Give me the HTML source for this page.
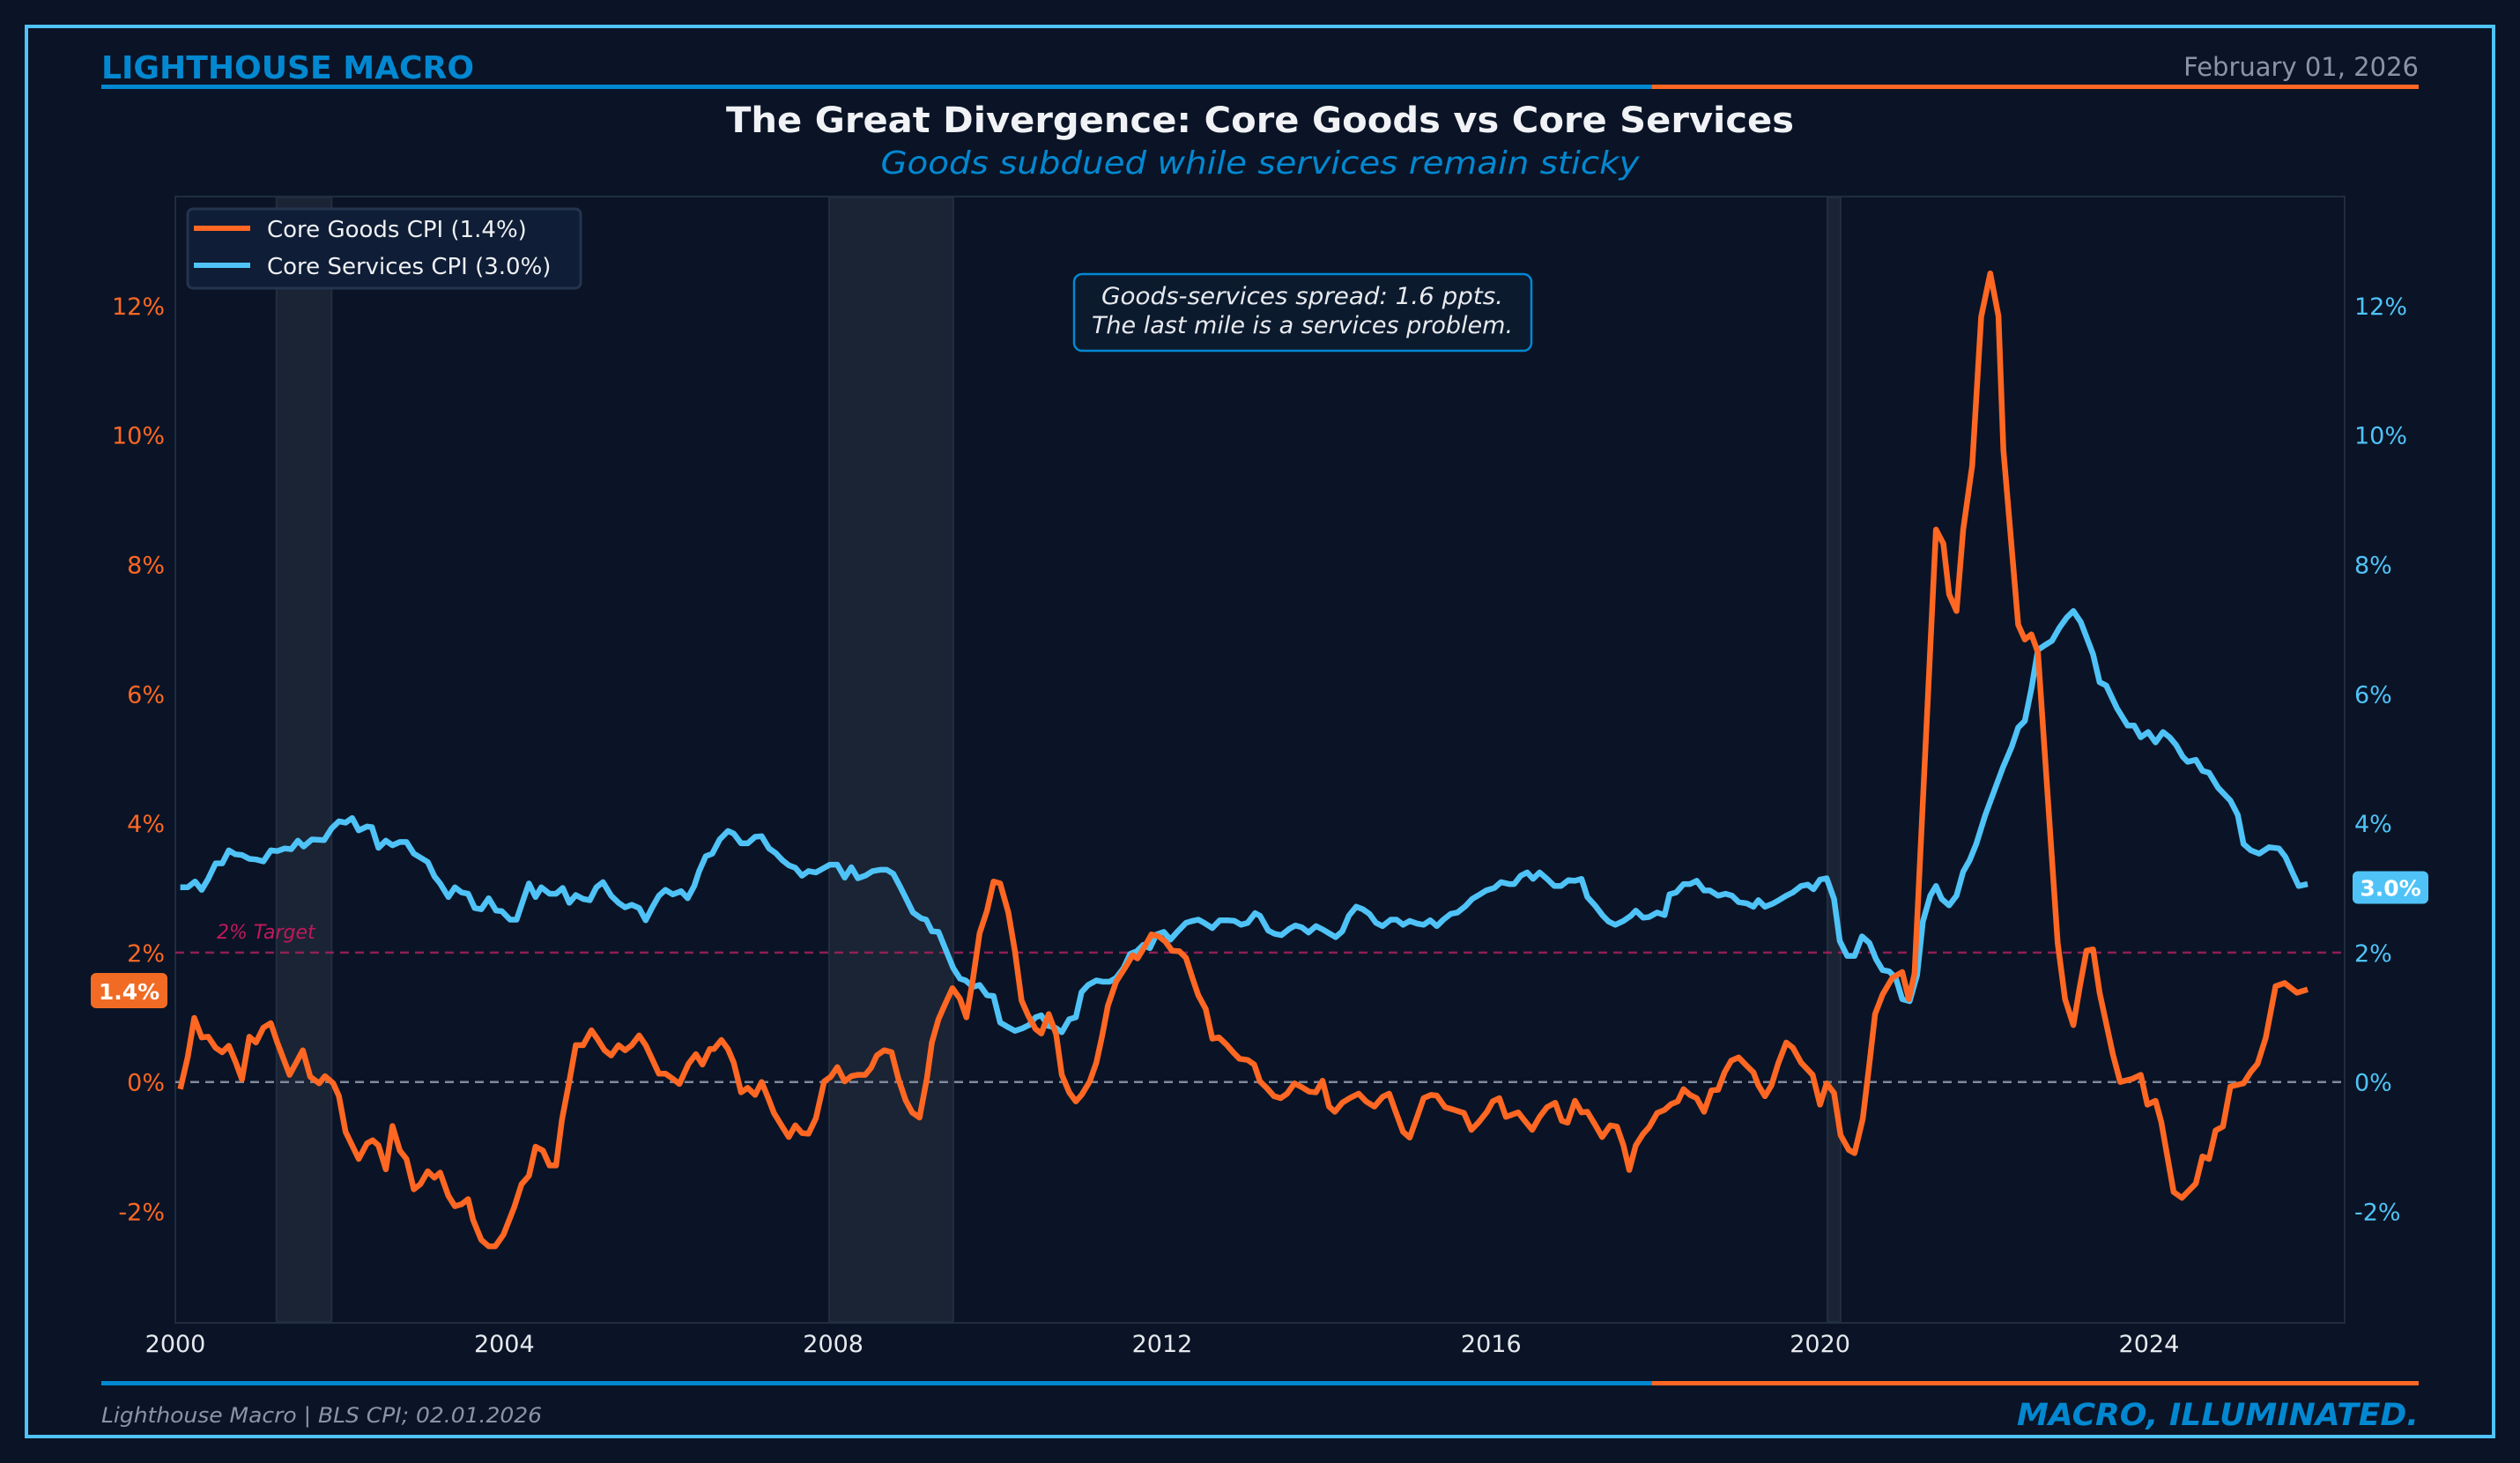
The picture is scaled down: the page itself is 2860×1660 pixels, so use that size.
<!DOCTYPE html>
<html><head><meta charset="utf-8"><style>
html,body{margin:0;padding:0;background:#0a1426;}
svg{display:block;font-family:"DejaVu Sans","Liberation Sans",sans-serif;}
</style></head><body>
<svg id="chart" width="2860" height="1660" viewBox="0 0 2860 1660" xmlns="http://www.w3.org/2000/svg">
<rect x="0" y="0" width="2860" height="1660" fill="#0a1426"/>
<rect x="30" y="30" width="2800" height="1600" fill="none" stroke="#4fc3f7" stroke-width="4"/>
<text x="115" y="89" font-size="36" font-weight="bold" fill="#0288d1" textLength="423" lengthAdjust="spacingAndGlyphs">LIGHTHOUSE MACRO</text>
<text x="2745" y="86" font-size="29" fill="#8a94a6" text-anchor="end">February 01, 2026</text>
<rect x="115" y="96" width="1760" height="5" fill="#0288d1"/>
<rect x="1875" y="96" width="870" height="5" fill="#ff6723"/>
<text x="1430" y="150" font-size="40" font-weight="bold" fill="#f0f2f5" text-anchor="middle" textLength="1212" lengthAdjust="spacingAndGlyphs">The Great Divergence: Core Goods vs Core Services</text>
<text x="1430" y="197" font-size="36" font-style="italic" fill="#0288d1" text-anchor="middle" textLength="861" lengthAdjust="spacingAndGlyphs">Goods subdued while services remain sticky</text>
<g id="plot"></g>
<rect x="115" y="1567" width="1760" height="5" fill="#0288d1"/>
<rect x="1875" y="1567" width="870" height="5" fill="#ff6723"/>
<text x="115" y="1614" font-size="24" font-style="italic" fill="#8a94a6" textLength="500" lengthAdjust="spacingAndGlyphs">Lighthouse Macro | BLS CPI; 02.01.2026</text>
<text x="2745" y="1617" font-size="35" font-style="italic" font-weight="bold" fill="#0288d1" text-anchor="end" textLength="456" lengthAdjust="spacingAndGlyphs">MACRO, ILLUMINATED.</text>
</svg>
<script>
const goodsYears=[2000.06,2000.15,2000.23,2000.32,2000.40,2000.49,2000.57,2000.65,2000.73,2000.81,2000.90,2000.98,2001.07,2001.16,2001.24,2001.39,2001.55,2001.64,2001.75,2001.82,2001.92,2001.99,2002.07,2002.23,2002.33,2002.40,2002.47,2002.56,2002.64,2002.73,2002.81,2002.90,2002.98,2003.07,2003.15,2003.22,2003.32,2003.40,2003.48,2003.56,2003.62,2003.72,2003.81,2003.89,2003.99,2004.12,2004.21,2004.30,2004.38,2004.47,2004.55,2004.63,2004.70,2004.79,2004.87,2004.96,2005.06,2005.13,2005.22,2005.30,2005.39,2005.47,2005.55,2005.64,2005.72,2005.80,2005.88,2005.96,2006.05,2006.13,2006.24,2006.33,2006.41,2006.50,2006.55,2006.64,2006.72,2006.79,2006.88,2006.96,2007.05,2007.13,2007.21,2007.28,2007.38,2007.46,2007.54,2007.62,2007.70,2007.79,2007.89,2007.97,2008.05,2008.14,2008.22,2008.30,2008.39,2008.46,2008.53,2008.62,2008.71,2008.79,2008.88,2008.96,2009.05,2009.14,2009.20,2009.28,2009.37,2009.45,
2009.54,2009.62,2009.70,2009.78,2009.87,2009.95,2010.03,2010.13,2010.21,2010.29,2010.37,2010.46,2010.53,2010.62,2010.71,2010.78,2010.87,2010.95,2011.02,2011.12,2011.20,2011.27,2011.34,2011.44,2011.55,2011.64,2011.70,2011.79,2011.87,2011.96,2012.04,2012.12,2012.21,2012.29,2012.37,2012.44,2012.53,2012.61,2012.69,2012.78,2012.87,2012.94,2013.04,2013.12,2013.19,2013.27,2013.36,2013.44,2013.52,2013.61,2013.70,2013.79,2013.87,2013.95,2014.03,2014.10,2014.19,2014.28,2014.39,2014.48,2014.58,2014.68,2014.76,2014.84,2014.93,2015.01,2015.10,2015.18,2015.27,2015.34,2015.44,2015.55,2015.67,2015.76,2015.85,2015.95,2016.02,2016.10,2016.18,2016.33,2016.41,2016.50,2016.59,2016.68,2016.78,2016.86,2016.93,2017.02,2017.10,2017.17,2017.27,2017.35,2017.45,2017.53,2017.61,2017.68,2017.76,2017.85,2017.92,2018.02,2018.11,2018.19,2018.27,2018.34,2018.42,2018.50,2018.59,2018.68,2018.76,
2018.84,2018.92,2019.01,2019.11,2019.19,2019.25,2019.33,2019.41,2019.49,2019.59,2019.67,2019.77,2019.91,2020.00,2020.08,2020.17,2020.25,2020.35,2020.42,2020.52,2020.60,2020.67,2020.76,2020.88,2021.00,2021.08,2021.15,2021.41,2021.50,2021.57,2021.66,2021.74,2021.85,2021.96,2022.07,2022.17,2022.23,2022.41,2022.49,2022.57,2022.65,2022.89,2022.98,2023.08,2023.16,2023.24,2023.32,2023.40,2023.56,2023.65,2023.80,2023.90,2023.98,2024.08,2024.15,2024.30,2024.40,2024.57,2024.65,2024.73,2024.81,2024.90,2024.99,2025.15,2025.24,2025.32,2025.42,2025.54,2025.65,2025.80,2025.93];
const goodsValues=[-0.11,0.38,0.99,0.69,0.70,0.53,0.46,0.56,0.32,0.04,0.70,0.61,0.84,0.91,0.61,0.11,0.49,0.08,-0.02,0.09,-0.02,-0.22,-0.77,-1.19,-0.95,-0.90,-0.98,-1.35,-0.68,-1.06,-1.19,-1.66,-1.58,-1.38,-1.48,-1.40,-1.76,-1.92,-1.89,-1.81,-2.13,-2.44,-2.54,-2.54,-2.36,-1.94,-1.58,-1.45,-1.00,-1.06,-1.29,-1.29,-0.59,0.01,0.57,0.57,0.80,0.67,0.49,0.41,0.57,0.49,0.57,0.72,0.57,0.35,0.13,0.13,0.05,-0.03,0.28,0.43,0.27,0.51,0.51,0.65,0.51,0.30,-0.16,-0.09,-0.20,0.00,-0.25,-0.48,-0.69,-0.85,-0.67,-0.79,-0.80,-0.56,0.01,0.08,0.23,0.01,0.09,0.11,0.11,0.22,0.41,0.49,0.46,0.06,-0.28,-0.47,-0.55,0.06,0.61,0.97,1.23,1.45,
1.29,1.00,1.60,2.30,2.65,3.10,3.07,2.62,2.02,1.26,1.03,0.82,0.75,1.05,0.74,0.11,-0.16,-0.30,-0.20,0.01,0.30,0.71,1.18,1.55,1.77,1.96,1.91,2.10,2.28,2.25,2.17,2.03,2.02,1.92,1.60,1.34,1.13,0.67,0.69,0.58,0.45,0.36,0.34,0.27,0.01,-0.09,-0.22,-0.25,-0.18,-0.02,-0.08,-0.15,-0.16,0.02,-0.38,-0.46,-0.32,-0.25,-0.18,-0.30,-0.38,-0.23,-0.18,-0.46,-0.77,-0.86,-0.54,-0.25,-0.20,-0.21,-0.39,-0.43,-0.48,-0.74,-0.62,-0.46,-0.30,-0.25,-0.54,-0.47,-0.60,-0.74,-0.54,-0.39,-0.32,-0.60,-0.63,-0.29,-0.47,-0.46,-0.67,-0.85,-0.67,-0.69,-0.98,-1.36,-0.98,-0.80,-0.70,-0.48,-0.43,-0.34,-0.30,-0.11,-0.20,-0.25,-0.46,-0.13,-0.12,
0.15,0.33,0.38,0.25,0.15,-0.05,-0.22,-0.05,0.28,0.61,0.53,0.30,0.11,-0.35,-0.02,-0.17,-0.82,-1.05,-1.10,-0.57,0.28,1.05,1.35,1.61,1.70,1.28,1.68,8.54,8.32,7.54,7.28,8.53,9.53,11.83,12.50,11.84,9.77,7.07,6.84,6.92,6.64,2.15,1.28,0.88,1.48,2.03,2.05,1.38,0.43,0.00,0.05,0.11,-0.35,-0.29,-0.62,-1.70,-1.79,-1.57,-1.15,-1.19,-0.75,-0.69,-0.07,-0.02,0.16,0.28,0.68,1.48,1.53,1.38,1.43];
const servicesYears=[2000.06,2000.15,2000.24,2000.32,2000.40,2000.49,2000.57,2000.65,2000.73,2000.81,2000.90,2000.98,2001.07,2001.16,2001.24,2001.33,2001.41,2001.49,2001.56,2001.66,2001.81,2001.90,2001.99,2002.07,2002.15,2002.23,2002.33,2002.39,2002.47,2002.56,2002.64,2002.73,2002.81,2002.90,2002.98,2003.07,2003.15,2003.22,2003.32,2003.40,2003.48,2003.56,2003.64,2003.72,2003.81,2003.90,2003.97,2004.07,2004.15,2004.24,2004.30,2004.38,2004.45,2004.55,2004.63,2004.71,2004.79,2004.87,2004.96,2005.04,2005.12,2005.20,2005.30,2005.39,2005.47,2005.55,2005.64,2005.72,2005.80,2005.88,2005.96,2006.05,2006.15,2006.23,2006.31,2006.37,2006.45,2006.53,2006.62,2006.72,2006.79,2006.88,2006.96,2007.05,2007.13,2007.22,2007.30,2007.38,2007.46,2007.54,2007.62,2007.70,2007.79,2007.89,2007.96,2008.05,2008.14,2008.22,2008.30,2008.39,2008.48,2008.57,2008.65,2008.73,2008.81,2008.88,2008.97,2009.07,2009.13,2009.20,2009.28,
2009.36,2009.46,2009.54,2009.61,2009.70,2009.78,2009.87,2009.95,2010.03,2010.11,2010.21,2010.30,2010.38,2010.46,2010.53,2010.61,2010.70,2010.78,2010.87,2010.95,2011.02,2011.10,2011.20,2011.28,2011.36,2011.44,2011.53,2011.61,2011.69,2011.77,2011.85,2011.93,2012.02,2012.10,2012.19,2012.29,2012.37,2012.44,2012.51,2012.61,2012.70,2012.80,2012.88,2012.96,2013.04,2013.13,2013.19,2013.29,2013.37,2013.45,2013.55,2013.62,2013.70,2013.78,2013.87,2013.95,2014.03,2014.11,2014.19,2014.27,2014.36,2014.44,2014.52,2014.60,2014.68,2014.78,2014.85,2014.93,2015.01,2015.10,2015.18,2015.26,2015.34,2015.42,2015.51,2015.59,2015.69,2015.77,2015.85,2015.94,2016.04,2016.12,2016.22,2016.28,2016.36,2016.44,2016.51,2016.59,2016.68,2016.77,2016.85,2016.94,2017.02,2017.10,2017.17,2017.27,2017.36,2017.43,2017.51,2017.61,2017.70,2017.76,2017.85,2017.92,2018.02,2018.11,2018.17,2018.25,2018.34,2018.42,2018.50,2018.59,2018.66,
2018.76,2018.85,2018.93,2019.01,2019.11,2019.19,2019.25,2019.33,2019.43,2019.50,2019.59,2019.67,2019.77,2019.85,2019.92,2020.00,2020.08,2020.17,2020.24,2020.33,2020.42,2020.51,2020.60,2020.68,2020.76,2020.84,2020.92,2021.00,2021.09,2021.18,2021.25,2021.34,2021.41,2021.48,2021.57,2021.66,2021.74,2021.82,2021.90,2022.01,2022.12,2022.22,2022.33,2022.41,2022.49,2022.57,2022.65,2022.73,2022.82,2022.91,2023.00,2023.08,2023.17,2023.32,2023.40,2023.48,2023.61,2023.74,2023.82,2023.90,2023.99,2024.08,2024.17,2024.25,2024.33,2024.41,2024.47,2024.57,2024.65,2024.73,2024.84,2024.99,2025.08,2025.15,2025.24,2025.34,2025.46,2025.58,2025.66,2025.74,2025.82,2025.93];
const servicesValues=[3.01,3.01,3.10,2.97,3.14,3.38,3.38,3.58,3.52,3.51,3.45,3.44,3.41,3.58,3.57,3.61,3.60,3.73,3.64,3.75,3.74,3.92,4.03,4.01,4.08,3.89,3.95,3.94,3.62,3.73,3.66,3.71,3.71,3.53,3.47,3.40,3.18,3.07,2.86,3.01,2.93,2.91,2.69,2.67,2.84,2.65,2.64,2.51,2.51,2.85,3.07,2.86,3.01,2.91,2.91,3.00,2.77,2.89,2.83,2.81,3.01,3.09,2.88,2.77,2.70,2.74,2.69,2.50,2.70,2.88,2.97,2.90,2.95,2.84,3.03,3.26,3.49,3.53,3.75,3.88,3.84,3.69,3.69,3.79,3.80,3.61,3.54,3.43,3.35,3.31,3.19,3.26,3.24,3.31,3.36,3.36,3.16,3.32,3.15,3.19,3.26,3.28,3.28,3.22,3.03,2.85,2.62,2.53,2.51,2.33,2.32,
2.07,1.76,1.60,1.57,1.47,1.50,1.34,1.33,0.92,0.86,0.79,0.83,0.88,1.00,1.03,0.87,0.84,0.77,0.97,1.00,1.39,1.50,1.57,1.55,1.55,1.61,1.76,1.98,2.02,2.12,2.07,2.28,2.32,2.20,2.33,2.46,2.49,2.51,2.46,2.38,2.50,2.50,2.49,2.43,2.46,2.61,2.57,2.34,2.29,2.27,2.37,2.42,2.39,2.31,2.41,2.36,2.30,2.24,2.33,2.57,2.71,2.67,2.60,2.46,2.41,2.51,2.51,2.43,2.49,2.45,2.43,2.50,2.41,2.51,2.60,2.62,2.72,2.83,2.89,2.96,3.00,3.09,3.06,3.06,3.19,3.24,3.14,3.24,3.14,3.03,3.03,3.12,3.11,3.14,2.86,2.72,2.57,2.48,2.43,2.49,2.57,2.65,2.54,2.55,2.62,2.58,2.90,2.93,3.06,3.06,3.11,2.96,2.96,
2.88,2.91,2.88,2.78,2.76,2.71,2.81,2.71,2.76,2.81,2.88,2.93,3.03,3.05,2.98,3.13,3.15,2.83,2.18,1.95,1.95,2.25,2.15,1.90,1.73,1.71,1.61,1.28,1.25,1.65,2.48,2.88,3.03,2.83,2.73,2.88,3.25,3.43,3.68,4.13,4.51,4.85,5.18,5.48,5.58,6.08,6.68,6.75,6.82,7.02,7.18,7.28,7.11,6.61,6.18,6.13,5.78,5.51,5.51,5.33,5.41,5.25,5.41,5.33,5.21,5.03,4.95,4.98,4.81,4.78,4.55,4.35,4.13,3.68,3.58,3.53,3.63,3.61,3.48,3.25,3.03,3.06];
const recessionStarts=[2001.23,2007.95,2020.09];
const recessionEnds=[2001.90,2009.46,2020.25];
const yTicks=[-2,0,2,4,6,8,10,12];
const yTickLabels=["-2%","0%","2%","4%","6%","8%","10%","12%"];
const xTicks=[2000,2004,2008,2012,2016,2020,2024];
const xTickLabels=["2000","2004","2008","2012","2016","2020","2024"];
const targetValue=2;
const latestGoods=1.4;
const latestServices=3.0;

const NS="http://www.w3.org/2000/svg";
const L=199,R=2661,T=223,B=1501;
function xs(y){return L+(y-2000)*93.33;}
function ys(v){return 1227.7-v*73.4;}
const plot=document.getElementById('plot');
function mk(tag,attrs,parent){const e=document.createElementNS(NS,tag);for(const k in attrs)e.setAttribute(k,attrs[k]);(parent||plot).appendChild(e);return e;}

let frame=mk('rect',{x:L,y:T,width:R-L,height:B-T,fill:'#0a1426',stroke:'#1f2c42','stroke-width':2});



for(let i=0;i<recessionStarts.length;i++){
  const r=mk('rect',{x:xs(recessionStarts[i]),y:T+1,width:xs(recessionEnds[i])-xs(recessionStarts[i]),height:B-T-2,fill:'#1a2434',stroke:'#222e40','stroke-width':2});
  
  
}

for(let i=0;i<yTicks.length;i++){
  const tl=mk('text',{x:187,y:ys(yTicks[i])+10,'font-size':27,fill:'#ff6723','text-anchor':'end'});
  tl.textContent=yTickLabels[i];
  
  
  const tr=mk('text',{x:2672,y:ys(yTicks[i])+10,'font-size':27,fill:'#4fc3f7'});
  tr.textContent=yTickLabels[i];
  
  
}
for(let i=0;i<xTicks.length;i++){
  const t=mk('text',{x:xs(xTicks[i]),y:1534,'font-size':27,fill:'#e6e9ee','text-anchor':'middle'});
  t.textContent=xTickLabels[i];
  
  
}

let zl=mk('line',{x1:L,x2:R,y1:ys(0),y2:ys(0),stroke:'#7f8a9c','stroke-width':2.5,'stroke-dasharray':'10 7'});


let tgl=mk('line',{x1:L,x2:R,y1:ys(targetValue),y2:ys(targetValue),stroke:'#b0205f','stroke-width':2.5,'stroke-dasharray':'10 7','stroke-opacity':0.8});


let tgt=mk('text',{x:246,y:ys(targetValue)-16,'font-size':22,'font-style':'italic',fill:'#c2185b'});
tgt.textContent='2% Target';



function path(xsArr,vsArr){return xsArr.map((y,i)=>(i?'L':'M')+xs(y).toFixed(1)+' '+ys(vsArr[i]).toFixed(1)).join(' ');}
let sp=mk('path',{d:path(servicesYears,servicesValues),fill:'none',stroke:'#4fc3f7','stroke-width':6.5,'stroke-linejoin':'round'});


let gp=mk('path',{d:path(goodsYears,goodsValues),fill:'none',stroke:'#ff6723','stroke-width':6.5,'stroke-linejoin':'round'});



let lg=mk('rect',{x:213,y:237,width:446,height:90,rx:6,fill:'#0f1d36',stroke:'#24344f','stroke-width':3});


let l1=mk('line',{x1:220,x2:284,y1:259,y2:259,stroke:'#ff6723','stroke-width':6});


let t1=mk('text',{x:303,y:269,'font-size':26,fill:'#eef0f3'});
t1.textContent='Core Goods CPI ('+latestGoods.toFixed(1)+'%)';


let l2=mk('line',{x1:220,x2:284,y1:301,y2:301,stroke:'#4fc3f7','stroke-width':6});


let t2=mk('text',{x:303,y:311,'font-size':26,fill:'#eef0f3'});
t2.textContent='Core Services CPI ('+latestServices.toFixed(1)+'%)';



let ab=mk('rect',{x:1219,y:311,width:519,height:87,rx:9,fill:'#0c1a2e',stroke:'#0288d1','stroke-width':2.5});


let a1=mk('text',{x:1478,y:345,'font-size':27,'font-style':'italic',fill:'#e8eaee','text-anchor':'middle',textLength:456,lengthAdjust:'spacingAndGlyphs'});
a1.textContent='Goods-services spread: '+(latestServices-latestGoods).toFixed(1)+' ppts.';


let a2=mk('text',{x:1478,y:378,'font-size':27,'font-style':'italic',fill:'#e8eaee','text-anchor':'middle'});
a2.textContent='The last mile is a services problem.';



let bg=mk('rect',{x:103,y:ys(latestGoods)-21,width:87,height:40,rx:6,fill:'#f26b24'});


let bgt=mk('text',{x:146.5,y:ys(latestGoods)+9,'font-size':25,'font-weight':'bold',fill:'#ffffff','text-anchor':'middle'});
bgt.textContent=latestGoods.toFixed(1)+'%';


let bs=mk('rect',{x:2670,y:ys(latestServices)-19,width:86,height:37,rx:6,fill:'#4fc3f7'});


let bst=mk('text',{x:2713,y:ys(latestServices)+9,'font-size':25,'font-weight':'bold',fill:'#ffffff','text-anchor':'middle'});
bst.textContent=latestServices.toFixed(1)+'%';


</script>
</body></html>
